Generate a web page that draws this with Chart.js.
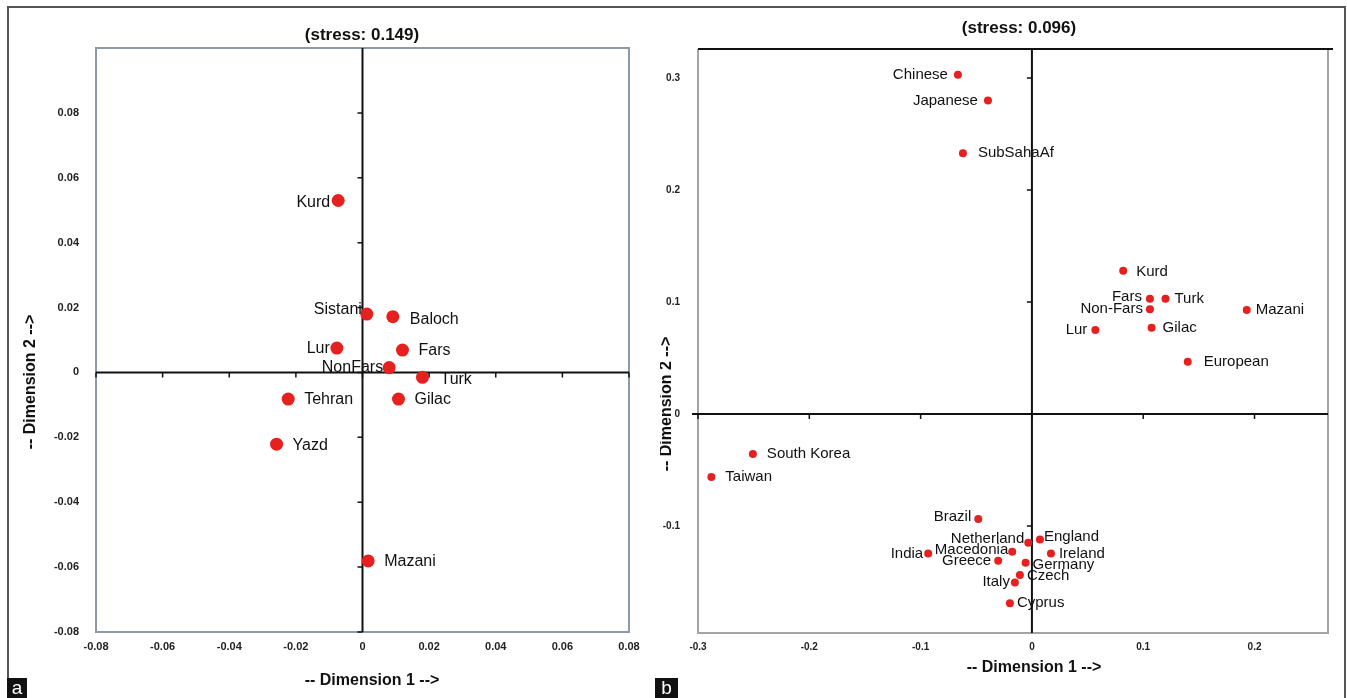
<!DOCTYPE html>
<html>
<head>
<meta charset="utf-8">
<script src="https://cdn.jsdelivr.net/npm/chart.js@4.4.1/dist/chart.umd.min.js"></script>
<style>
  html, body { margin: 0; padding: 0; background: #fff; }
  #wrap { position: relative; width: 1347px; height: 698px; overflow: hidden; font-family: 'Liberation Sans', Arial, sans-serif; }
  #frame { position: absolute; left: 7px; top: 6px; width: 1335px; height: 700px; border: 2px solid #555; border-bottom: none; }
  canvas { position: absolute; top: 0; }
  #cA { left: 0; }
  #cB { left: 660px; }
  .tag { position: absolute; top: 678px; height: 20px; background: #111; color: #fff; font-size: 19px; line-height: 19px; text-align: center; }
</style>
</head>
<body>
<div id="wrap">
  <div id="frame"></div>
  <canvas id="cA" width="660" height="698"></canvas>
  <canvas id="cB" width="687" height="698"></canvas>
  <div class="tag" style="left:7px;width:20px;">a</div>
  <div class="tag" style="left:655px;width:23px;">b</div>
</div>
<script>
// ---------- panel a data ----------
const namesA = ['Kurd', 'Sistani', 'Baloch', 'Lur', 'Fars', 'NonFars', 'Turk', 'Tehran', 'Gilac', 'Yazd', 'Mazani'];
const dim1A = [-0.0073, 0.0013, 0.0091, -0.0077, 0.0120, 0.0080, 0.0180, -0.0223, 0.0108, -0.0258, 0.0017];
const dim2A = [0.0530, 0.0180, 0.0172, 0.0075, 0.0069, 0.0015, -0.0015, -0.0082, -0.0082, -0.0221, -0.0581];
const xTickLabelsA = ['-0.08', '-0.06', '-0.04', '-0.02', '0', '0.02', '0.04', '0.06', '0.08'];
const yTickLabelsA = ['0.08', '0.06', '0.04', '0.02', '0', '-0.02', '-0.04', '-0.06', '-0.08'];

// ---------- panel b data ----------
const namesB = ['Chinese', 'Japanese', 'SubSahaAf', 'Kurd', 'Fars', 'Turk', 'Non-Fars', 'Mazani', 'Lur', 'Gilac', 'European',
  'South Korea', 'Taiwan', 'Brazil', 'Netherland', 'England', 'India', 'Macedonia', 'Ireland', 'Greece', 'Germany', 'Czech', 'Italy', 'Cyprus'];
const dim1B = [-0.0665, -0.0395, -0.062, 0.082, 0.106, 0.120, 0.106, 0.193, 0.057, 0.1075, 0.140,
  -0.2507, -0.288, -0.0482, -0.0033, 0.0072, -0.0932, -0.0177, 0.0171, -0.0303, -0.0057, -0.0108, -0.0153, -0.0198];
const dim2B = [0.303, 0.280, 0.233, 0.128, 0.103, 0.103, 0.0935, 0.093, 0.075, 0.077, 0.0467,
  -0.0357, -0.0563, -0.0938, -0.1149, -0.1119, -0.1244, -0.1229, -0.1244, -0.131, -0.1328, -0.1438, -0.1503, -0.169];
const xTickLabelsB = ['-0.3', '-0.2', '-0.1', '0', '0.1', '0.2'];
const yTickLabelsB = ['0.3', '0.2', '0.1', '0', '-0.1'];

// label placement (px offsets from the point; negative = text sits left of it)
const labelDxA = [-8, -5, 17, -7, 16, -6, 18, 16, 16, 16, 16];
const labelDyA = [2, -4, 3, 0, 1, 0, 2, 1, 1, 1, 1];
const labelDxB = [-10, -10, 15, 13, -8, 9, -7, 9, -8, 11, 16, 14, 14, -7, -4, 4, -5, -4, 8, -7, 7, 7, -5, 7];
const labelDyB = [0, 0, 0, 1, -2, 0, -1, 0, 0, 0, 0, 0, 0, -2, -4, -3, 0, -2, 0, 0, 2, 1, -1, 0];

const FONT = "'Liberation Sans', Arial, sans-serif";
const RED = '#e5201f';

function toPoints(xs, ys) {
    return xs.map((x, i) => ({ x: x, y: ys[i] }));
}

// draws frame, zero axes, tick marks, labels and titles
function panelPlugin(cfg) {
    return {
        id: 'panel',
        beforeDatasetsDraw(chart) {
            const { ctx, chartArea: a, scales } = chart;
            const x0 = scales.x.getPixelForValue(0);
            const y0 = scales.y.getPixelForValue(0);
            ctx.save();
            ctx.lineCap = 'butt';
            if (cfg.style === 'a') {
                ctx.strokeStyle = '#8b9aab';
                ctx.lineWidth = 2;
                ctx.strokeRect(a.left, a.top, a.right - a.left, a.bottom - a.top);
            } else {
                ctx.strokeStyle = '#a3a3a3';
                ctx.lineWidth = 2;
                ctx.beginPath();
                ctx.moveTo(a.left, a.top); ctx.lineTo(a.left, a.bottom);
                ctx.lineTo(a.right, a.bottom); ctx.lineTo(a.right, a.top);
                ctx.stroke();
                ctx.strokeStyle = '#111';
                ctx.beginPath();
                ctx.moveTo(a.left, a.top); ctx.lineTo(a.right + 5, a.top);
                ctx.stroke();
            }
            // zero axes
            ctx.strokeStyle = '#111';
            ctx.lineWidth = 2;
            ctx.beginPath();
            ctx.moveTo(x0, a.top); ctx.lineTo(x0, a.bottom);
            ctx.moveTo(a.left - (cfg.style === 'b' ? 6 : 0), y0); ctx.lineTo(a.right, y0);
            ctx.stroke();
            // tick marks on the zero axes
            ctx.lineWidth = 1.5;
            ctx.beginPath();
            cfg.yTicks.forEach(t => {
                const y = scales.y.getPixelForValue(parseFloat(t));
                ctx.moveTo(x0 - 5, y); ctx.lineTo(x0, y);
            });
            cfg.xTicks.forEach(t => {
                const x = scales.x.getPixelForValue(parseFloat(t));
                ctx.moveTo(x, y0); ctx.lineTo(x, y0 + 5);
            });
            ctx.stroke();
            ctx.restore();
        },
        afterDatasetsDraw(chart) {
            const { ctx, chartArea: a } = chart;
            const meta = chart.getDatasetMeta(0);
            ctx.save();
            ctx.fillStyle = '#111';
            ctx.font = cfg.labelFont;
            ctx.textBaseline = 'middle';
            meta.data.forEach((p, i) => {
                const dx = cfg.dx[i];
                ctx.textAlign = dx < 0 ? 'right' : 'left';
                ctx.fillText(cfg.names[i], p.x + dx, p.y + cfg.dy[i]);
            });
            // titles
            ctx.font = 'bold 17px ' + FONT;
            ctx.textAlign = 'center';
            ctx.fillText(cfg.title, cfg.titleX, cfg.titleY);
            ctx.font = 'bold 16px ' + FONT;
            ctx.fillText('-- Dimension 1 -->', cfg.d1X, cfg.d1Y);
            ctx.translate(cfg.d2X, cfg.d2Y);
            ctx.rotate(-Math.PI / 2);
            ctx.fillText('-- Dimension 2 -->', 0, 0);
            ctx.restore();
        }
    };
}

function makeChart(id, opt) {
    const canvas = document.getElementById(id);
    return new Chart(canvas.getContext('2d'), {
        type: 'scatter',
        data: {
            datasets: [{
                data: toPoints(opt.xs, opt.ys),
                pointRadius: opt.radius,
                pointHoverRadius: opt.radius,
                backgroundColor: RED,
                borderColor: RED,
                borderWidth: 0
            }]
        },
        options: {
            responsive: false,
            animation: false,
            devicePixelRatio: 1,
            events: [],
            layout: { padding: opt.padding },
            plugins: { legend: { display: false }, tooltip: { enabled: false } },
            scales: {
                x: {
                    type: 'linear', min: opt.xMin, max: opt.xMax,
                    afterBuildTicks: s => { s.ticks = opt.xTicks.map(t => ({ value: parseFloat(t) })); },
                    afterFit: s => { s.height = opt.xAxisH; },
                    grid: { display: false, drawTicks: false },
                    border: { display: false },
                    ticks: { padding: 8, color: '#222', font: { family: FONT, size: opt.tickSize, weight: 'bold' },
                        maxRotation: 0, autoSkip: false, callback: (v, i) => opt.xTicks[i] }
                },
                y: {
                    type: 'linear', min: opt.yMin, max: opt.yMax,
                    afterBuildTicks: s => { s.ticks = opt.yTicks.map(t => ({ value: parseFloat(t) })); },
                    afterFit: s => { s.width = opt.yAxisW; },
                    grid: { display: false, drawTicks: false },
                    border: { display: false },
                    ticks: { padding: opt.yPad, color: '#222', font: { family: FONT, size: opt.tickSize, weight: 'bold' },
                        autoSkip: false, callback: (v, i) => opt.yTicks[i] }
                }
            }
        },
        plugins: [panelPlugin({
            style: opt.style, names: opt.names, dx: opt.dx, dy: opt.dy,
            xTicks: opt.xTicks, yTicks: opt.yTicks, labelFont: opt.labelFont,
            title: opt.title, titleX: opt.titleX, titleY: opt.titleY,
            d1X: opt.d1X, d1Y: opt.d1Y, d2X: opt.d2X, d2Y: opt.d2Y
        })]
    });
}

makeChart('cA', {
    style: 'a', names: namesA, xs: dim1A, ys: dim2A, dx: labelDxA, dy: labelDyA,
    xTicks: xTickLabelsA, yTicks: yTickLabelsA,
    xMin: -0.08, xMax: 0.08, yMin: -0.08, yMax: 0.1,
    padding: { left: 0, top: 48, right: 31, bottom: 0 }, xAxisH: 66, yAxisW: 96, yPad: 17,
    radius: 6.5, tickSize: 11, labelFont: '16px ' + FONT,
    title: '(stress: 0.149)', titleX: 362, titleY: 35,
    d1X: 372, d1Y: 681, d2X: 31, d2Y: 382
});

makeChart('cB', {
    style: 'b', names: namesB, xs: dim1B, ys: dim2B, dx: labelDxB, dy: labelDyB,
    xTicks: xTickLabelsB, yTicks: yTickLabelsB,
    xMin: -0.3, xMax: 0.266, yMin: -0.1955, yMax: 0.326,
    padding: { left: 0, top: 49, right: 19, bottom: 0 }, xAxisH: 65, yAxisW: 38, yPad: 18,
    radius: 4, tickSize: 10, labelFont: '15px ' + FONT,
    title: '(stress: 0.096)', titleX: 359, titleY: 28,
    d1X: 374, d1Y: 668, d2X: 7, d2Y: 404
});
</script>
</body>
</html>
